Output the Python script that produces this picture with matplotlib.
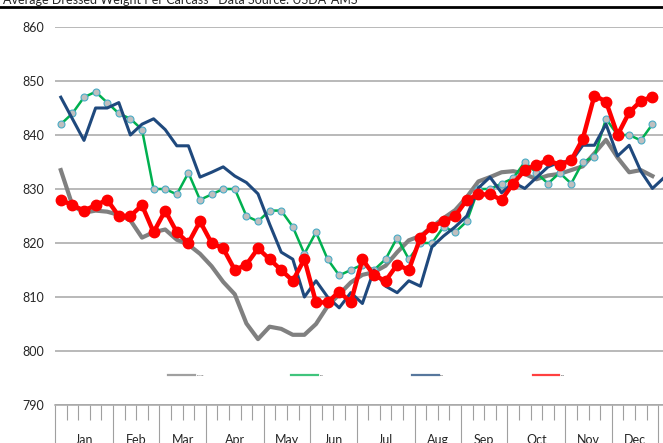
import matplotlib
matplotlib.use('Agg')
import matplotlib.pyplot as plt
from matplotlib.lines import Line2D
import numpy as np

plt.rcParams['font.family'] = ['Lato', 'DejaVu Sans']

# month labels and number of weeks in each
months = ['Jan', 'Feb', 'Mar', 'Apr', 'May', 'Jun', 'Jul', 'Aug', 'Sep', 'Oct', 'Nov', 'Dec']
weeks_per_month = [5, 4, 4, 5, 4, 4, 5, 4, 4, 5, 4, 4]

series_names = ['5 Yr Avg', '2011', '2012', '2013']

# weekly average dressed weight (lbs)
avg_5yr = [833.5, 827, 825.6, 826, 825.8, 825.2, 824.2, 821, 822, 822.5,
           820.6, 819.7, 818, 815.7, 812.8, 810.5, 805.1, 802.2, 804.5, 804.1,
           803, 803, 805, 808.3, 810.5, 812.7, 814.1, 814.6, 815.8, 818.3,
           820.5, 821.3, 823, 824.6, 826.1, 828.5, 831.4, 832.2, 833.1, 833.3,
           832.8, 831.8, 832.5, 832.8, 833.5, 834.2, 836.6, 839.1, 835.8, 833.1,
           833.5, 832.4]

w2011 = [842, 844, 847, 848, 846, 844, 843, 841, 830, 830,
         829, 833, 828, 829, 830, 830, 825, 824, 826, 826,
         823, 818, 822, 817, 814, 815, 816, 815, 817, 821,
         817, 820, 820, 823, 822, 824, 830, 830, 831, 832,
         835, 833, 831, 833, 831, 835, 836, 843, 840, 840,
         839, 842]

w2012 = [847, 843, 839, 845, 845, 846, 840, 842, 843, 841,
         838, 838, 832.2, 833.1, 834.1, 832.4, 831.2, 829.1, 823.5, 818.3,
         817, 810, 813, 810, 808, 810.8, 808.8, 815, 812, 810.8,
         813, 812, 819.3, 821.3, 823, 825, 830.2, 832.2, 829.3, 831.2,
         830.1, 832.1, 834.1, 835, 835.1, 838.1, 838.1, 842, 836.1, 838.1,
         833.3, 830.1, 832.1]

w2013 = [828, 827, 826, 827, 828, 825, 825, 827, 822, 826,
         822, 820, 824, 820, 819, 815, 816, 819, 817, 815,
         813, 817, 809, 809, 811, 809, 817, 814, 813, 816,
         815, 821, 823, 824, 825, 828, 829, 829, 828, 831,
         833.5, 834.5, 835.3, 834.5, 835.3, 839.3, 847.3, 846.2, 840, 844.2,
         846.3, 847.1]

fig = plt.figure(figsize=(6.63, 4.43), dpi=100)
# plot area runs past the right edge, as in the cropped original
ax = fig.add_axes([55 / 663, 38 / 443, 645 / 663, 378 / 443])
ax.set_xlim(0, 645 / 11.6)
ax.set_ylim(790, 860)


def xs(vals):
    return np.arange(len(vals)) + 0.5


ax.plot(xs(avg_5yr), avg_5yr, color='#808080', lw=3.0, solid_joinstyle='round', zorder=3)
ax.plot(xs(w2011), w2011, color='#00B050', lw=1.8, marker='o', markersize=5,
        markerfacecolor='#BFBFBF', markeredgecolor='#4BACC6', markeredgewidth=0.8, zorder=4)
ax.plot(xs(w2012), w2012, color='#1F497D', lw=2.2, zorder=5)
ax.plot(xs(w2013), w2013, color='#FF0000', lw=3.2, marker='o', markersize=7.5, zorder=6)

# y axis
ax.set_yticks(np.arange(790, 861, 10))
ax.yaxis.grid(True, color='#A6A6A6', lw=1.1)
ax.set_axisbelow(True)
ax.tick_params(axis='y', length=0, pad=8, labelsize=9, labelcolor='#262626')

for s in ['left', 'right', 'top']:
    ax.spines[s].set_visible(False)
ax.spines['bottom'].set_color('#A6A6A6')
ax.spines['bottom'].set_linewidth(1.1)

# x axis: weekly ticks, long ticks at month boundaries
bounds = np.concatenate([[0], np.cumsum(weeks_per_month)])
ax.set_xticks(bounds)
ax.set_xticks(np.arange(bounds[-1] + 1), minor=True)
ax.tick_params(axis='x', which='major', length=34, width=0.8, color='#A0A0A0', labelbottom=False)
ax.tick_params(axis='x', which='minor', length=11, width=0.8, color='#A0A0A0')

centers = bounds[:-1] + np.array(weeks_per_month) / 2
for c, m in zip(centers, months):
    ax.text(c, -0.077, m, transform=ax.get_xaxis_transform(), ha='center', va='top',
            fontsize=9, color='#262626')

# tiny legend
colors = ['#808080', '#00B050', '#1F497D', '#FF0000']
handles = [Line2D([], [], color=c, lw=1.6, alpha=0.75) for c in colors]
fig.legend(handles, series_names, ncol=4, loc='center', bbox_to_anchor=(0.553, 0.1535),
           frameon=False, fontsize=1.2, handlelength=16, handletextpad=1, columnspacing=53)

# title band cut off at the top
fig.text(0.004, 1 - 4 / 443, 'Average Dressed Weight Per Carcass   Data Source: USDA-AMS',
         fontsize=9, va='baseline', color='#262626')
fig.add_artist(Line2D([0, 1], [1 - 6.5 / 443] * 2, transform=fig.transFigure, color='black', lw=2))

fig.savefig('out.png', dpi=100)
